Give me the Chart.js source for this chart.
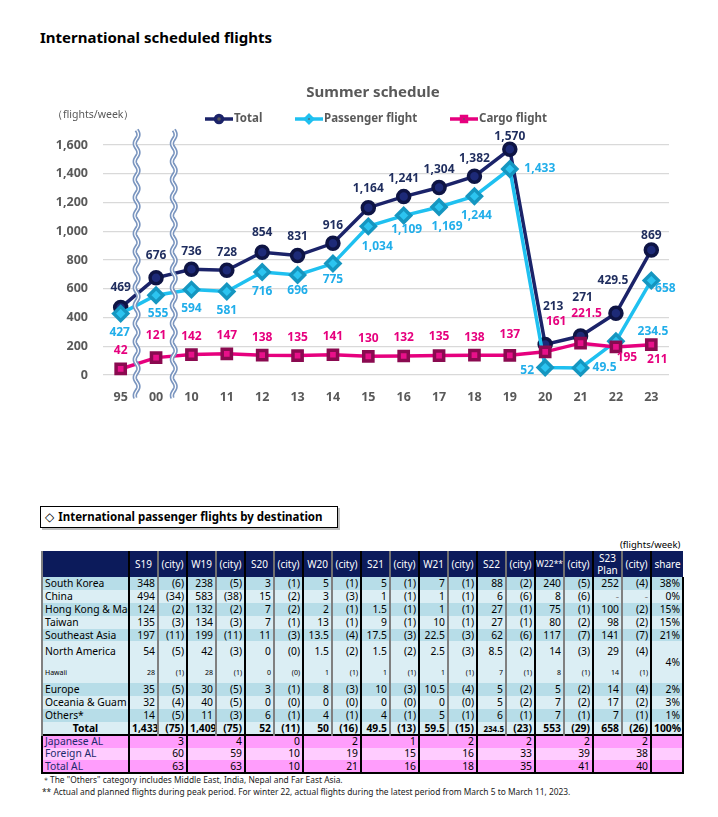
<!DOCTYPE html>
<html>
<head>
<meta charset="utf-8" />
<script src="https://cdn.jsdelivr.net/npm/chart.js@4.4.3/dist/chart.umd.min.js"></script>
<style>
  html, body { margin: 0; padding: 0; background: #fff; }
  body { width: 718px; height: 817px; position: relative; overflow: hidden; font-family: "Noto Sans", "DejaVu Sans", sans-serif; }
  #title { position: absolute; left: 40px; top: 27px; font-weight: bold; font-size: 15px; color: #000; }
  #wrap { position: absolute; left: 0; top: 0; width: 718px; height: 410px; }
  #section { position: absolute; left: 40px; top: 506px; width: 292px; height: 20px; border: 1px solid #000; box-shadow: 2px 2px 0 #bfbfbf;
    font-weight: bold; font-size: 11.5px; line-height: 20px; padding-left: 4px; box-sizing: content-box; }
  #section span { font-weight: normal; font-size: 12px; margin-right: 4px; }
  #unit { position: absolute; left: 620px; top: 538px; font-size: 9.5px; color: #000; }
  #tbl { position: absolute; left: 41px; top: 551px; border-collapse: collapse; table-layout: fixed; width: 641px; font-size: 10.3px; }
  #tbl td, #tbl th { padding: 0 2px; white-space: nowrap; overflow: hidden; line-height: 11px; text-align: right; }
  #tbl th { background: #0c1b5b; color: #fff; font-weight: normal; text-align: center; line-height: 12px; font-size: 10px; }
  #tbl th.v { border-right: 2px solid #707070; }
  #tbl th.c { border-right: 2px solid #000; }
  #tbl th.lab { border-right: 2px solid #000; border-left: 2px solid #808080; }
  #tbl th.sh { border-left: 2px solid #fff; }
  #tbl td.lab { text-align: left; border-right: 2px solid #000; border-left: 2px solid #808080; }
  #tbl td.v { border-right: 2px solid #808080; }
  #tbl td.c { border-right: 2px solid #000; }
  #tbl td.sh { border-right: 2px solid #000; }
  #tbl tr.small td { font-size: 7px; }
  #tbl tr.tot td { font-weight: bold; }
  #tbl tr.pink td { border-right: 2px solid #000; }
  #tbl tr.pink td.lab { border-left: 2px solid #000; color: #1c2a6b; }
  #tbl tr.first td { border-top: 2px solid #000; }
  #tbl tr.last td { border-bottom: 2px solid #000; }
  .note { position: absolute; left: 42px; font-size: 8.4px; color: #222; }
</style>
</head>
<body>
<div id="title">International scheduled flights</div>
<div id="wrap"><canvas id="c" width="718" height="410"></canvas></div>
<div id="section"><span>◇</span>International passenger flights by destination</div>
<div id="unit">(flights/week)</div>
<table id="tbl"></table>
<div class="note" style="top:774px">＊The "Others" category includes Middle East, India, Nepal and Far East Asia.</div>
<div class="note" style="top:786px">** Actual and planned flights during peak period. For winter 22, actual flights during the latest period from March 5 to March 11, 2023.</div>
<script>
// chart data
const years = ['95', '00', '10', '11', '12', '13', '14', '15', '16', '17', '18', '19', '20', '21', '22', '23'];
const totalFlights = [469, 676, 736, 728, 854, 831, 916, 1164, 1241, 1304, 1382, 1570, 213, 271, 429.5, 869];
const passengerFlights = [427, 555, 594, 581, 716, 696, 775, 1034, 1109, 1169, 1244, 1433, 52, 49.5, 234.5, 658];
const cargoFlights = [42, 121, 142, 147, 138, 135, 141, 130, 132, 135, 138, 137, 161, 221.5, 195, 211];
const yTicks = [0, 200, 400, 600, 800, 1000, 1200, 1400, 1600];
const breakAfter = [0.45, 1.5]; // category positions of the axis breaks

// table data
const periods = ['S19', 'W19', 'S20', 'W20', 'S21', 'W21', 'S22', 'W22**', 'S23 Plan'];
const destinations = ['South Korea', 'China', 'Hong Kong & Macau', 'Taiwan', 'Southeast Asia', 'North America', 'Hawaii', 'Europe', 'Oceania & Guam', 'Others*', 'Total'];
const destFlights = [
  [348, 238, 3, 5, 5, 7, 88, 240, 252],
  [494, 583, 15, 3, 1, 1, 6, 8, '-'],
  [124, 132, 7, 2, 1.5, 1, 27, 75, 100],
  [135, 134, 7, 13, 9, 10, 27, 80, 98],
  [197, 199, 11, 13.5, 17.5, 22.5, 62, 117, 141],
  [54, 42, 0, 1.5, 1.5, 2.5, 8.5, 14, 29],
  [28, 28, 0, 1, 1, 1, 7, 8, 14],
  [35, 30, 3, 8, 10, 10.5, 5, 5, 14],
  [32, 40, 0, 0, 0, 0, 5, 7, 17],
  [14, 11, 6, 4, 4, 5, 6, 7, 7],
  [1433, 1409, 52, 50, 49.5, 59.5, 234.5, 553, 658]
];
const destCities = [
  [6, 5, 1, 1, 1, 1, 2, 5, 4],
  [34, 38, 2, 3, 1, 1, 6, 6, '-'],
  [2, 2, 2, 1, 1, 1, 1, 1, 2],
  [3, 3, 1, 1, 1, 1, 1, 2, 2],
  [11, 11, 3, 4, 3, 3, 6, 7, 7],
  [5, 3, 0, 2, 2, 3, 2, 3, 4],
  [1, 1, 0, 1, 1, 1, 1, 1, 1],
  [5, 5, 1, 3, 3, 4, 2, 2, 4],
  [4, 5, 0, 0, 0, 0, 2, 2, 2],
  [5, 3, 1, 1, 1, 1, 1, 1, 1],
  [75, 75, 11, 16, 13, 15, 23, 29, 26]
];
const destShares = ['38%', '0%', '15%', '15%', '21%', '4%', null, '2%', '3%', '1%', '100%'];
const airlines = ['Japanese AL', 'Foreign AL', 'Total AL'];
const airlineCounts = [
  [3, 4, 0, 2, 1, 2, 2, 2, 2],
  [60, 59, 10, 19, 15, 16, 33, 39, 38],
  [63, 63, 10, 21, 16, 18, 35, 41, 40]
];

// label placement (dx, dy from the point)
const totalLabelPos = [[0,-20],[0,-22],[0,-18],[0,-18],[0,-20],[0,-19],[0,-18],[0,-19],[0,-18],[0,-18],[0,-18],[0,-13],[8,-38],[2,-38],[-3,-33],[0,-15]];
const passengerLabelPos = [[-1,19],[2,18],[0,19],[0,19],[0,20],[0,16],[0,16],[9,20],[3,14],[8,20],[2,19],[30,0],[-18,3],[24,0],[37,-10],[14,8]];
const cargoLabelPos = [[0,-18],[0,-22],[0,-18],[0,-18],[0,-18],[0,-18],[0,-18],[0,-18],[0,-18],[0,-19],[0,-18],[0,-21],[11,-30],[6,-30],[11,11],[6,15]];

const FONT = '"Noto Sans", "DejaVu Sans", sans-serif';
const NAVY = '#1b2369', CYAN = '#1fc0f0', PINK = '#e6007e';
const fmt = v => typeof v === 'number' ? v.toLocaleString('en-US') : v;

const labelPlugin = {
  id: 'labels',
  afterDatasetsDraw(chart) {
    const ctx = chart.ctx;
    const sets = [[0, totalLabelPos, '#1f2d5e'], [1, passengerLabelPos, '#21aeea'], [2, cargoLabelPos, PINK]];
    ctx.save();
    ctx.font = 'bold 12px ' + FONT;
    ctx.textAlign = 'center';
    ctx.textBaseline = 'middle';
    sets.forEach(([i, pos, col]) => {
      const meta = chart.getDatasetMeta(i);
      const vals = chart.data.datasets[i].data;
      ctx.fillStyle = col;
      meta.data.forEach((el, j) => {
        ctx.fillText(fmt(vals[j]), el.x + pos[j][0], el.y + pos[j][1]);
      });
    });
    // axis break marks
    breakAfter.forEach(p => {
      const cx = chart.scales.x.getPixelForValue(p);
      const top = 130, bot = 398;
      const path = () => {
        ctx.beginPath();
        for (let y = top; y <= bot; y += 1) {
          const x = cx + 1.8 * Math.sin((y - top) / 18 * 2 * Math.PI);
          y === top ? ctx.moveTo(x, y) : ctx.lineTo(x, y);
        }
      };
      path(); ctx.strokeStyle = '#7a95bf'; ctx.lineWidth = 4.5; ctx.stroke();
      path(); ctx.strokeStyle = '#fff'; ctx.lineWidth = 1.3; ctx.stroke();
    });
    ctx.restore();
  },
  afterDraw(chart) {
    const ctx = chart.ctx;
    ctx.save();
    ctx.fillStyle = '#595959';
    ctx.textAlign = 'center';
    ctx.textBaseline = 'middle';
    ctx.font = 'bold 15px ' + FONT;
    ctx.fillText('Summer schedule', 373, 93);
    ctx.textAlign = 'left';
    ctx.font = '10.5px ' + FONT;
    ctx.fillText('（flights/week）', 52, 115);
    // legend
    const items = [[0, 205, 'circle'], [1, 295, 'rectRot'], [2, 450, 'rect']];
    ctx.font = 'bold 11.5px ' + FONT;
    items.forEach(([i, x0, st]) => {
      const ds = chart.data.datasets[i];
      ctx.strokeStyle = ds.borderColor;
      ctx.lineWidth = 3.5;
      ctx.beginPath(); ctx.moveTo(x0, 119); ctx.lineTo(x0 + 28, 119); ctx.stroke();
      Chart.helpers.drawPoint(ctx, { pointStyle: st, radius: 3.5, borderWidth: 1 }, x0 + 14, 119);
      ctx.fillStyle = '#595959';
      ctx.fillText(ds.label, x0 + 29, 119);
    });
    ctx.restore();
  }
};

const ctx = document.getElementById('c').getContext('2d');
new Chart(ctx, {
  type: 'line',
  data: {
    labels: years,
    datasets: [
      { label: 'Total', data: totalFlights, borderColor: NAVY, backgroundColor: NAVY, pointBackgroundColor: '#1d2a78',
        pointBorderColor: '#0e1444', pointStyle: 'circle', pointRadius: 6, borderWidth: 3.5, order: 3 },
      { label: 'Passenger flight', data: passengerFlights, borderColor: CYAN, backgroundColor: CYAN, pointBackgroundColor: '#2cc4f0',
        pointBorderColor: '#1596c0', pointStyle: 'rectRot', pointRadius: 7, borderWidth: 3.5, order: 2 },
      { label: 'Cargo flight', data: cargoFlights, borderColor: PINK, backgroundColor: PINK, pointBackgroundColor: '#e8108a',
        pointBorderColor: '#8a0a50', pointStyle: 'rect', pointRadius: 6.5, borderWidth: 3.5, order: 1 }
    ]
  },
  options: {
    responsive: false,
    animation: false,
    clip: false,
    layout: { padding: { top: 145, right: 49, left: 0, bottom: 0 } },
    plugins: { legend: { display: false }, title: { display: false }, tooltip: { enabled: false } },
    scales: {
      x: {
        offset: true,
        grid: { display: false },
        border: { display: false },
        ticks: { color: '#595959', font: { family: FONT, weight: 'bold', size: 12.5 }, padding: 7 },
        afterFit(s) { s.height = 35; }
      },
      y: {
        min: 0, max: 1600,
        afterBuildTicks(s) { s.ticks = yTicks.map(v => ({ value: v })); },
        grid: { color: '#d9d9d9', lineWidth: 1.3, drawTicks: false },
        border: { display: false },
        ticks: { color: '#595959', font: { family: FONT, weight: 'bold', size: 12.5 }, padding: 15, callback: v => v.toLocaleString('en-US') },
        afterFit(s) { s.width = 103; }
      }
    }
  },
  plugins: [labelPlugin]
});

// table
const DARK = '#b7dde8', LIGHT = '#dbeef4';
const rowBg = [DARK, LIGHT, DARK, LIGHT, DARK, LIGHT, LIGHT, DARK, LIGHT, DARK, LIGHT];
const rowH = [13, 13, 13, 13, 12, 21, 21, 13, 13, 13, 13];
let html = '<colgroup><col style="width:87px">';
periods.forEach(() => { html += '<col style="width:29px"><col style="width:29px">'; });
html += '<col style="width:32px"></colgroup>';
html += '<tr style="height:26px"><th class="lab"></th>';
periods.forEach(p => {
  const small = p.includes('*') ? ' style="font-size:8.5px;padding:0"' : '';
  html += `<th class="v"${small}>${p.replace(' ', '<br>')}</th><th class="c">(city)</th>`;
});
html += '<th class="sh">share</th></tr>';
destinations.forEach((d, r) => {
  const cls = r === 6 ? 'small' : (r === 10 ? 'tot' : '');
  html += `<tr class="${cls}" style="height:${rowH[r]}px;background:${rowBg[r]}">`;
  html += `<td class="lab"${r === 10 ? ' style="text-align:center"' : ''}>${d}</td>`;
  destFlights[r].forEach((v, k) => {
    const c = destCities[r][k];
    const dash = v === '-' ? ' style="color:#888"' : '';
    const tiny = (r === 10 && v === 234.5) ? ' style="font-size:8px;padding:0 1px"' : '';
    html += `<td class="v"${dash}${tiny}>${fmt(v)}</td>`;
    html += `<td class="c"${c === '-' ? ' style="color:#888"' : ''}>${c === '-' ? '-' : '(' + c + ')'}</td>`;
  });
  if (r === 5) html += `<td class="sh" rowspan="2" style="vertical-align:middle">${destShares[r]}</td>`;
  else if (r !== 6) html += `<td class="sh">${destShares[r]}</td>`;
  html += '</tr>';
});
const pinkBg = ['#ff9dfc', '#ffccff', '#ff9dfc'];
airlines.forEach((a, r) => {
  const cls = 'pink' + (r === 0 ? ' first' : '') + (r === 2 ? ' last' : '');
  html += `<tr class="${cls}" style="height:${r === 2 ? 13 : 12.5}px;background:${pinkBg[r]}"><td class="lab">${a}</td>`;
  airlineCounts[r].forEach(v => { html += `<td colspan="2">${fmt(v)}</td>`; });
  html += '<td></td></tr>';
});
document.getElementById('tbl').innerHTML = html;
</script>
</body>
</html>
